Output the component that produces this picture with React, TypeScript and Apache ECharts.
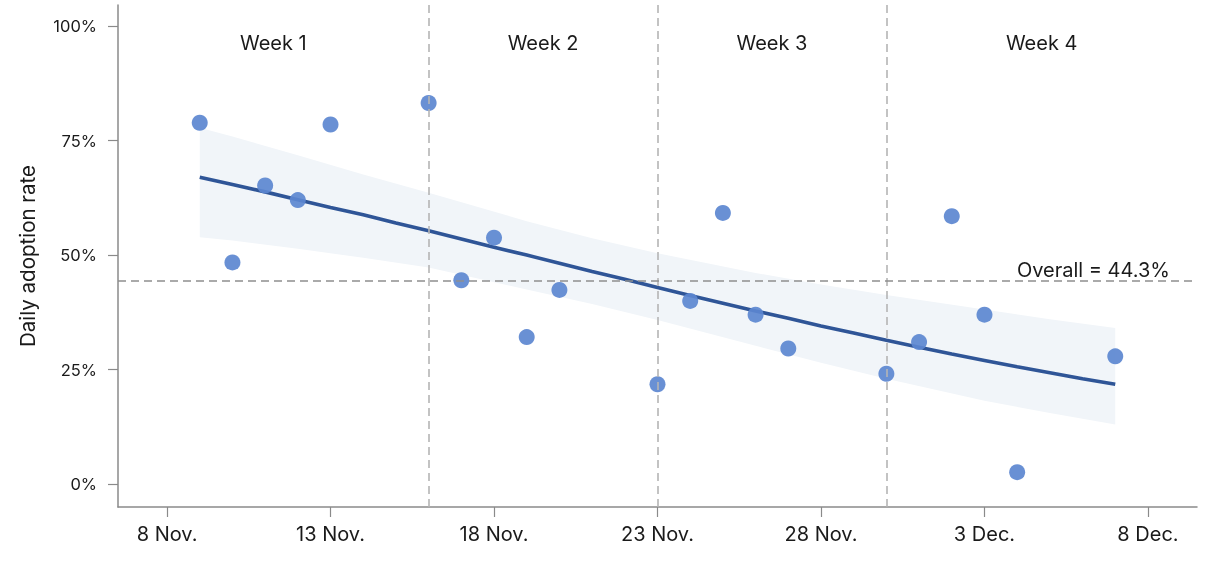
import React, { useEffect, useRef } from "react";
import * as echarts from "echarts";

// x = days since 8 Nov.
const tickDays = [0, 5, 10, 15, 20, 25, 30];
const tickLabels = ["8 Nov.", "13 Nov.", "18 Nov.", "23 Nov.", "28 Nov.", "3 Dec.", "8 Dec."];
const yTicks = [0, 25, 50, 75, 100];

const pointDays = [1, 2, 3, 4, 5, 8, 9, 10, 11, 12, 15, 16, 17, 18, 19, 22, 23, 24, 25, 26, 29];
const pointRates = [78.9, 48.4, 65.2, 62.0, 78.5, 83.2, 44.5, 53.8, 32.1, 42.4, 21.8, 40.0, 59.2, 37.0, 29.6, 24.1, 31.0, 58.5, 37.0, 2.6, 27.9];

const fitDays = [1, 2, 3, 4, 5, 6, 7, 8, 9, 10, 11, 12, 13, 14, 15, 16, 17, 18, 19, 20, 21, 22, 23, 24, 25, 26, 27, 28, 29];
const fitRates = [67.0, 65.4, 63.8, 62.1, 60.4, 58.8, 57.0, 55.3, 53.5, 51.7, 50.0, 48.2, 46.4, 44.7, 42.9, 41.2, 39.5, 37.8, 36.2, 34.5, 33.0, 31.4, 29.9, 28.4, 27.0, 25.6, 24.3, 23.0, 21.8];

const bandDays = [1, 2, 4, 6, 8, 11, 13, 15, 18, 20, 22, 25, 27, 29];
const bandUpper = [77.8, 75.9, 71.8, 67.6, 63.6, 57.4, 53.7, 50.4, 46.1, 43.6, 41.3, 38.1, 36.0, 34.1];
const bandLower = [53.9, 53.2, 51.4, 49.4, 47.3, 42.5, 39.3, 35.8, 30.2, 26.5, 23.0, 18.2, 15.5, 13.0];

const weekBounds = [-1.5, 8, 15, 22, 31.5];
const weekNames = ["Week 1", "Week 2", "Week 3", "Week 4"];
const overall = 44.3;

const FONT = "Inter, 'Noto Sans', sans-serif";

export default function App() {
  const ref = useRef<HTMLDivElement>(null);
  useEffect(() => {
    if (!ref.current) return;
    const chart = echarts.init(ref.current, undefined, { renderer: "svg" });
    const labelFor = (v: number) => {
      const i = tickDays.indexOf(Math.round(v));
      return i >= 0 ? tickLabels[i] : "";
    };
    chart.setOption({
      animation: false,
      textStyle: { fontFamily: FONT },
      grid: { left: 118, right: 29, top: 5, bottom: 61 },
      xAxis: {
        type: "value",
        min: -1.5,
        max: 31.5,
        splitLine: { show: false },
        axisLine: { show: true, onZero: false, lineStyle: { color: "#8a8a8a", width: 1.5 } },
        axisTick: { show: true, length: 10, lineStyle: { color: "#8a8a8a", width: 1.2 }, customValues: tickDays },
        axisLabel: { color: "#1a1a1a", fontSize: 20, margin: 17, fontFamily: FONT, customValues: tickDays, formatter: labelFor },
      },
      yAxis: {
        type: "value",
        min: -5,
        max: 104.6,
        name: "Daily adoption rate",
        nameLocation: "middle",
        nameGap: 80,
        nameTextStyle: { color: "#1a1a1a", fontSize: 20.5, fontFamily: FONT },
        splitLine: { show: false },
        axisLine: { show: true, onZero: false, lineStyle: { color: "#8a8a8a", width: 1.5 } },
        axisTick: { show: true, length: 10, lineStyle: { color: "#8a8a8a", width: 1.2 }, customValues: yTicks },
        axisLabel: { color: "#1a1a1a", fontSize: 16.5, margin: 21, fontFamily: FONT, customValues: yTicks, formatter: (v: number) => `${Math.round(v)}%` },
      },
      series: [
        {
          type: "custom",
          silent: true,
          z: 0,
          data: bandDays.map((d, i) => [d, bandLower[i], bandUpper[i]]),
          renderItem: (params: any, api: any) => {
            if (params.dataIndex !== 0) return null;
            const pts: number[][] = [];
            for (let i = 0; i < bandDays.length; i++) pts.push(api.coord([bandDays[i], bandUpper[i]]));
            for (let i = bandDays.length - 1; i >= 0; i--) pts.push(api.coord([bandDays[i], bandLower[i]]));
            return {
              type: "polygon",
              shape: { points: pts, smooth: 0 },
              style: { fill: "#f1f5f9", stroke: "none" },
            };
          },
          markArea: {
            silent: true,
            itemStyle: { color: "rgba(0,0,0,0)" },
            label: { show: true, position: "insideTop", distance: 28, color: "#1a1a1a", fontSize: 20, fontFamily: FONT },
            data: weekNames.map((n, i) => [
              { name: n, xAxis: weekBounds[i] },
              { xAxis: weekBounds[i + 1] },
            ]),
          },
          markLine: {
            silent: true,
            symbol: "none",
            label: { show: false },
            lineStyle: { color: "#b5b5b5", type: [8, 5], width: 1.6 },
            data: weekBounds.slice(1, 4).map((x) => ({ xAxis: x })),
          },
        },
        {
          type: "line",
          data: [],
          silent: true,
          z: 2,
          markLine: {
            silent: true,
            symbol: "none",
            lineStyle: { color: "#8f8f8f", type: [8, 5], width: 1.6 },
            label: {
              show: true,
              position: "insideEndTop",
              distance: [27, 1],
              formatter: `Overall = ${overall}%`,
              color: "#1a1a1a",
              fontSize: 20,
              fontFamily: FONT,
            },
            data: [{ yAxis: overall }],
          },
        },
        {
          type: "line",
          data: fitDays.map((d, i) => [d, fitRates[i]]),
          symbol: "none",
          lineStyle: { color: "#2f5597", width: 3.6 },
          z: 3,
        },
        {
          type: "scatter",
          data: pointDays.map((d, i) => [d, pointRates[i]]),
          symbolSize: 16,
          itemStyle: { color: "#5c87d0", opacity: 0.92 },
          z: 4,
        },
      ],
    });
    return () => chart.dispose();
  }, []);
  return <div ref={ref} style={{ position: "fixed", left: 0, top: 0, width: 1226, height: 568 }} />;
}
